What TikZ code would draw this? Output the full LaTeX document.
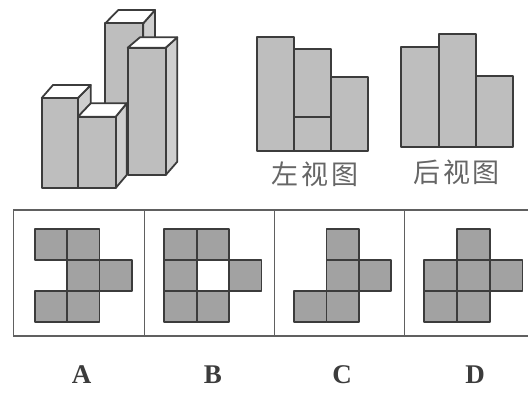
\documentclass[tikz,border=0pt]{standalone}
\usepackage{xcolor}
\usepackage{fontspec}
\newfontfamily\cjkfont[LetterSpace=10]{Noto Sans CJK SC}
\setmainfont{Liberation Serif}
\definecolor{lineink}{HTML}{3C3C3C}
\definecolor{framegray}{HTML}{606060}
\definecolor{facegray}{HTML}{BEBEBE}
\definecolor{sidegray}{HTML}{CFCFCF}
\definecolor{cellgray}{HTML}{A2A2A2}
\definecolor{captiongray}{HTML}{666666}

\begin{document}
\begin{tikzpicture}[
    x=1pt, y=-1pt,
    solid3d/.style={draw=lineink, line width=1.8pt, line join=round},
    frontface/.style={solid3d, fill=facegray},
    sideface/.style={solid3d, fill=sidegray},
    topface/.style={solid3d, fill=white},
    viewbox/.style={draw=lineink, line width=1.9pt, fill=facegray, line join=round},
    cellbox/.style={draw=lineink, line width=1.7pt, fill=cellgray, line join=round},
    framerule/.style={draw=framegray, line width=1.3pt},
    caption/.style={font=\cjkfont\fontsize{27}{27}\selectfont, text=captiongray, inner sep=0pt},
    choice/.style={font=\bfseries\fontsize{27}{27}\selectfont, text=lineink, inner sep=0pt},
]
\useasboundingbox (0,0) rectangle (528,393);

% Tall back tower
\draw[sideface] (143.3,23.3) -- (155,10) -- (155,40) -- (143.3,50) -- cycle;
\draw[topface] (105.3,23.3) -- (118.3,10) -- (155,10) -- (143.3,23.3) -- cycle;
\draw[frontface] (105.3,23.3) rectangle (143.3,104);

% Right tower
\draw[sideface] (165.7,47.7) -- (177.3,37.3) -- (177.3,161.7) -- (165.7,175) -- cycle;
\draw[topface] (127.7,47.7) -- (140,37.3) -- (177.3,37.3) -- (165.7,47.7) -- cycle;
\draw[frontface] (127.7,47.7) rectangle (165.7,175);

% Left tower
\draw[sideface] (78,98) -- (90.7,85) -- (90.7,104) -- (78,117) -- cycle;
\draw[topface] (41.7,98) -- (53,85) -- (90.7,85) -- (78,98) -- cycle;
\draw[frontface] (41.7,98) rectangle (78,188);

% Front tower
\draw[sideface] (115.7,116.7) -- (126.7,103.3) -- (126.7,175) -- (115.7,188) -- cycle;
\draw[topface] (78,116.7) -- (90.7,103.3) -- (126.7,103.3) -- (115.7,116.7) -- cycle;
\draw[frontface] (78,116.7) rectangle (115.7,188);

% Left view
\draw[viewbox] (256.7,36.7) rectangle (294.3,150.7);
\draw[viewbox] (294.3,49.3) rectangle (331,117.3);
\draw[viewbox] (294.3,117.3) rectangle (331,150.7);
\draw[viewbox] (331,76.7) rectangle (368.3,150.7);
\node[caption] (leftview) at (315,174) {左视图};

% Back view
\draw[viewbox] (400.7,47.3) rectangle (439,147.3);
\draw[viewbox] (439,34) rectangle (476,147.3);
\draw[viewbox] (476,76) rectangle (513.3,147.3);
\node[caption] (backview) at (456.7,172) {后视图};

% Answer frame
\draw[framerule] (528,210) -- (13.3,210) -- (13.3,336) -- (528,336);
\draw[framerule] (144.3,210) -- (144.3,336);
\draw[framerule] (274.3,210) -- (274.3,336);
\draw[framerule] (404.3,210) -- (404.3,336);

% Option A
\foreach \cx/\cy in {0/0, 1/0, 1/1, 2/1, 0/2, 1/2}
    \draw[cellbox] (35+32.3*\cx,229+31*\cy) rectangle +(32.3,31);

% Option B
\foreach \cx/\cy in {0/0, 1/0, 0/1, 2/1, 0/2, 1/2}
    \draw[cellbox] (164.3+32.4*\cx,229+31*\cy) rectangle +(32.4,31);

% Option C
\foreach \cx/\cy in {1/0, 1/1, 2/1, 0/2, 1/2}
    \draw[cellbox] (294.3+32.2*\cx,229+31*\cy) rectangle +(32.2,31);

% Option D
\foreach \cx/\cy in {1/0, 0/1, 1/1, 2/1, 0/2, 1/2}
    \draw[cellbox] (424.3+32.7*\cx,229+31*\cy) rectangle +(32.7,31);

% Labels
\node[choice] (choiceA) at (81.7,375) {A};
\node[choice] (choiceB) at (213,375) {B};
\node[choice] (choiceC) at (342,375) {C};
\node[choice] (choiceD) at (475,375) {D};

\end{tikzpicture}
\end{document}
